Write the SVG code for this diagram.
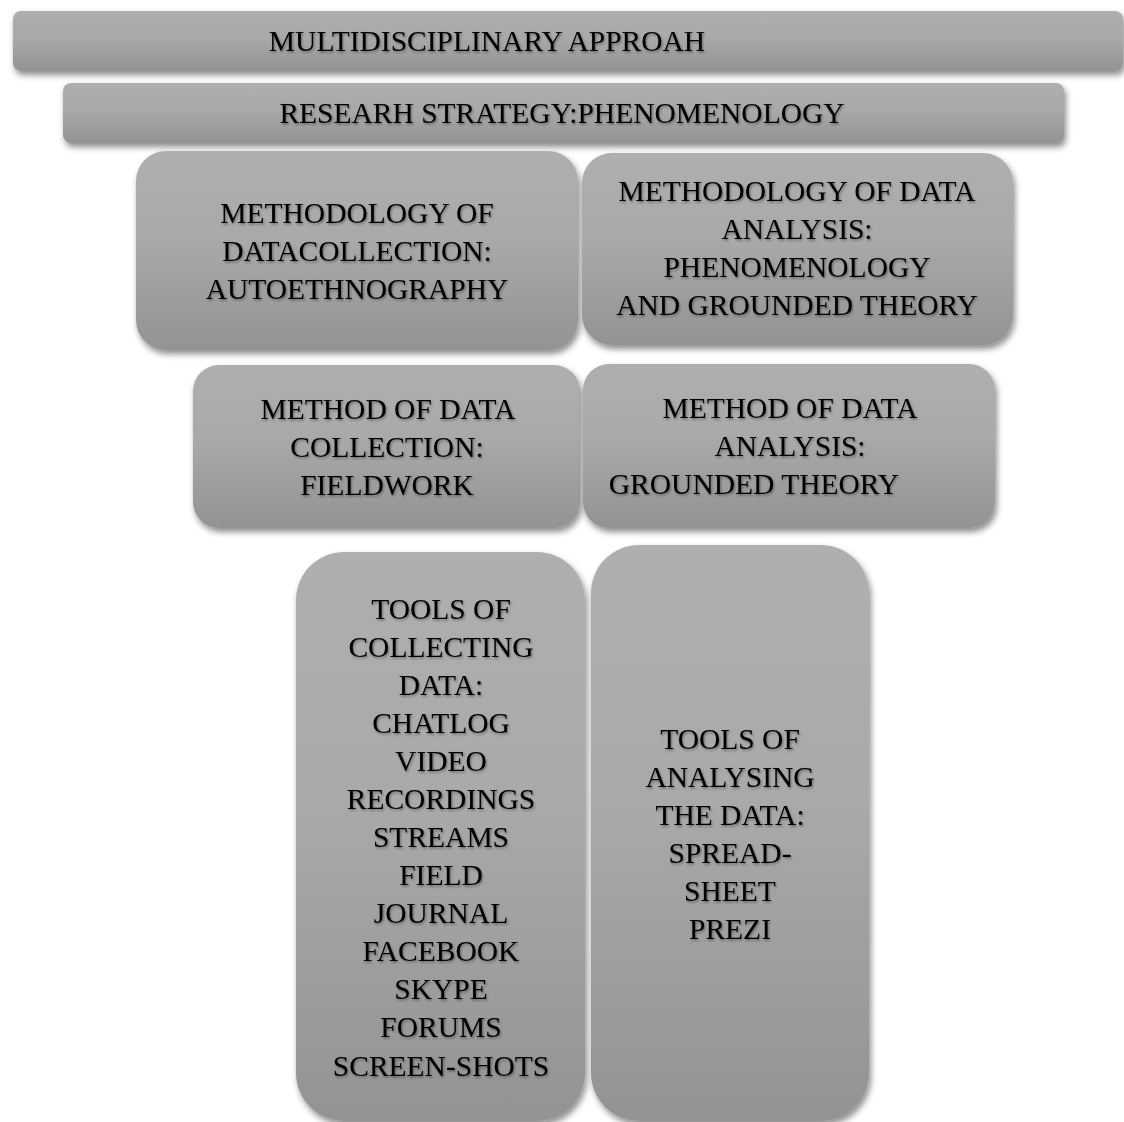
<svg xmlns="http://www.w3.org/2000/svg" width="1124" height="1122" viewBox="0 0 1124 1122">
<defs>
<linearGradient id="g" x1="0" y1="0" x2="0" y2="1">
<stop offset="0" stop-color="#afafaf"/>
<stop offset="0.45" stop-color="#a9a9a9"/>
<stop offset="1" stop-color="#939393"/>
</linearGradient>
<filter id="sh" x="-10%" y="-10%" width="120%" height="130%">
<feDropShadow dx="2" dy="4" stdDeviation="3" flood-color="#000" flood-opacity="0.45"/>
</filter>
<filter id="ts" x="-5%" y="-20%" width="110%" height="150%">
<feDropShadow dx="1" dy="1.5" stdDeviation="1" flood-color="#000" flood-opacity="0.4"/>
</filter>
</defs>
<style>
.box{fill:url(#g);filter:url(#sh);}
.t{font-family:"Liberation Serif","Times New Roman",serif;font-size:29.5px;fill:#000;text-anchor:middle;filter:url(#ts);}
</style>
<rect width="1124" height="1122" fill="#fff"/>
<g id="n1"><rect class="box" x="13" y="11" width="1110" height="60" rx="8"/>
<text class="t" x="487" y="51">MULTIDISCIPLINARY APPROAH</text></g>
<g id="n2"><rect class="box" x="63" y="83" width="1001" height="60" rx="8"/>
<text class="t" x="562" y="123">RESEARH STRATEGY:PHENOMENOLOGY</text></g>
<g id="n3"><rect class="box" x="136" y="151" width="442" height="199" rx="30"/>
<text class="t" x="357" y="223">METHODOLOGY OF</text>
<text class="t" x="357" y="261">DATACOLLECTION:</text>
<text class="t" x="357" y="299">AUTOETHNOGRAPHY</text></g>
<g id="n4"><rect class="box" x="582" y="153" width="431" height="192" rx="30"/>
<text class="t" x="797" y="201">METHODOLOGY OF DATA</text>
<text class="t" x="797" y="239">ANALYSIS:</text>
<text class="t" x="797" y="277">PHENOMENOLOGY</text>
<text class="t" x="797" y="315">AND GROUNDED THEORY</text></g>
<g id="n5"><rect class="box" x="193" y="365" width="387" height="163" rx="26"/>
<text class="t" x="388" y="419">METHOD OF DATA</text>
<text class="t" x="387" y="457">COLLECTION:</text>
<text class="t" x="387" y="495">FIELDWORK</text></g>
<g id="n6"><rect class="box" x="583" y="364" width="412" height="164" rx="26"/>
<text class="t" x="790" y="418">METHOD OF DATA</text>
<text class="t" x="790" y="456">ANALYSIS:</text>
<text class="t" x="754" y="494">GROUNDED THEORY</text></g>
<g id="n7"><rect class="box" x="296" y="552" width="289" height="569" rx="48"/>
<text class="t" x="441" y="619">TOOLS OF</text>
<text class="t" x="441" y="657">COLLECTING</text>
<text class="t" x="441" y="695">DATA:</text>
<text class="t" x="441" y="733">CHATLOG</text>
<text class="t" x="441" y="771">VIDEO</text>
<text class="t" x="441" y="809">RECORDINGS</text>
<text class="t" x="441" y="847">STREAMS</text>
<text class="t" x="441" y="885">FIELD</text>
<text class="t" x="441" y="923">JOURNAL</text>
<text class="t" x="441" y="961">FACEBOOK</text>
<text class="t" x="441" y="999">SKYPE</text>
<text class="t" x="441" y="1037">FORUMS</text>
<text class="t" x="441" y="1076">SCREEN-SHOTS</text></g>
<g id="n8"><rect class="box" x="591" y="545" width="278" height="576" rx="48"/>
<text class="t" x="730" y="749">TOOLS OF</text>
<text class="t" x="730" y="787">ANALYSING</text>
<text class="t" x="730" y="825">THE DATA:</text>
<text class="t" x="730" y="863">SPREAD-</text>
<text class="t" x="730" y="901">SHEET</text>
<text class="t" x="730" y="939">PREZI</text></g>
<g id="connectors"></g>
</svg>
